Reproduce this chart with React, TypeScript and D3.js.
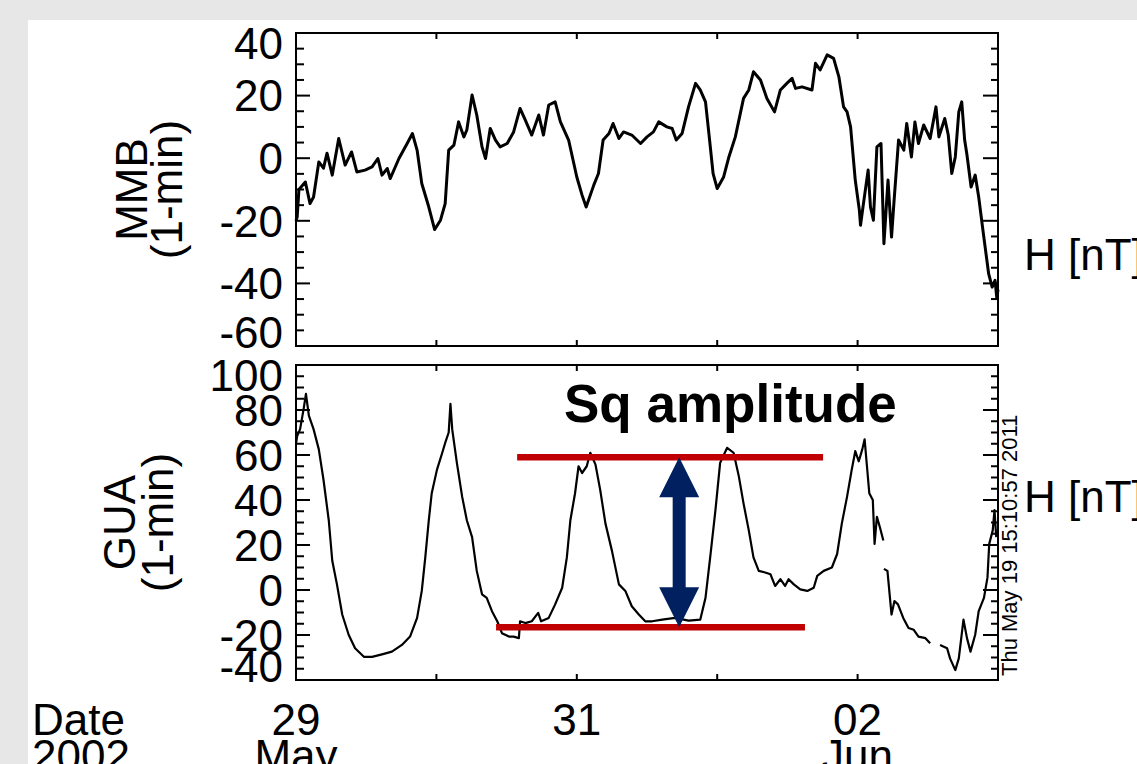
import React from "react";
import * as d3 from "d3";

// ---- Data (hours since 2002-05-29 00:00 UT, H in nT) ----
const mmbHours = [0,0.2,0.5,1.6,2.4,3.0,3.9,4.7,5.3,6.2,7.3,8.4,9.5,10.4,11.8,13.0,14.0,14.7,15.6,16.1,17.6,19.0,19.9,20.7,21.5,22.7,23.7,24.7,25.5,26.1,27.0,27.8,28.7,29.2,30.1,30.9,31.8,32.4,33.2,34.1,34.9,36.1,37.2,38.3,39.2,40.3,41.5,42.3,43.2,44.3,45.2,46.6,48.0,48.9,49.6,50.9,51.7,52.5,53.5,54.2,55.2,56.0,57.4,58.9,60.0,61.1,62.0,63.4,64.3,65.0,66.0,67.1,68.3,69.1,70.0,70.7,71.3,72.0,73.1,74.0,75.1,76.5,77.4,78.2,79.4,80.5,81.8,82.8,83.9,84.8,85.4,86.5,88.2,88.8,89.6,90.8,91.9,92.8,93.6,94.2,94.8,95.6,96.3,96.5,97.0,97.8,98.2,98.7,99.3,100.0,100.5,101.2,101.8,102.2,103.0,103.9,104.4,105.2,105.8,106.4,107.3,108.4,109.4,109.9,110.9,111.5,112.1,112.7,113.3,113.8,114.3,114.7,115.4,116.1,116.7,117.5,118.4,119.0,119.5,119.8,120.0];
const mmbValues = [-20,-18.8,-10,-7.6,-14.5,-12.4,-1.2,-3.2,1.6,-5.4,6.3,-2.2,2,-4.4,-3.8,-2.8,-0.1,-5.4,-3.3,-6.5,-0.1,4.7,7.9,2.6,-8.1,-15.6,-22.8,-19.8,-14.5,2.6,4.2,11.6,6.8,9,20.2,13.8,3.6,-0.1,9.5,5.8,3.6,4.7,8.4,15.9,12.2,7.4,13.8,7.4,17,18,11.6,5.8,-6,-11.8,-15.6,-8.6,-4.9,5.8,7.9,11.1,6.3,8.4,7.4,4.7,6.8,8.4,11.6,10,9.5,5.8,7.9,16.4,23.9,21.8,18,5.8,-4.9,-9.7,-6,0.4,6.8,19.1,21.8,27.6,25,19.1,14.8,21.8,23.9,25.5,22.3,22.8,21.8,30.3,28.2,33,31.9,26,16.4,14.8,10,-7,-16.6,-21.4,-14.5,-3.8,-15.6,-19.8,3.6,4.7,-27.3,-7,-25.2,-14.5,5.8,2.6,11.1,0.4,11.6,4.7,10.6,6.3,16.4,6.8,12.7,7.4,-4.9,0.4,14.8,18,5.8,1,-9.2,-5.4,-12.4,-24.1,-36.9,-41.2,-39,-44.8,-42];

const guaHours = [0,0.2,0.7,1.3,1.7,2.2,3.0,3.9,4.7,5.6,6.2,7.0,7.9,9.0,10.1,11.6,13.0,14.7,16.4,18.1,19.5,20.7,21.5,22.1,22.7,23.2,24.1,25.0,25.6,26.1,26.4,26.7,27.5,28.4,29.2,30.1,30.9,31.8,32.6,33.5,34.4,35.2,36.4,37.2,38.1,38.3,39.2,40.3,41.4,41.9,43.2,44.3,45.5,46.3,46.9,47.7,48.3,48.9,49.7,50.3,51.2,52.0,52.9,54.0,55.2,56.3,57.4,58.6,59.7,60.9,62.6,64.8,67.1,69.1,70.0,70.8,71.7,72.5,73.7,74.8,75.7,76.5,77.4,78.2,79.1,80.2,81.1,81.9,82.8,83.6,84.2,85.1,86.2,87.4,88.5,89.1,90.2,91.6,92.5,93.3,94.2,95.0,95.6,96.2,96.8,97.2,97.6,98.0,98.6,98.9,99.3,99.8,100.4,100.45,100.5,101.1,101.8,102.3,102.9,103.8,104.7,105.6,106.4,107.6,108.4,109.0,110.1,111.3,111.8,112.7,113.3,114.1,114.7,115.3,116.1,116.7,117.6,118.2,118.5,119.1,119.4,119.7];
const guaValues: (number | null)[] = [65,68.4,71.5,80.4,87.2,77.5,71.5,62.5,49,31,13,2.5,-10.9,-19.9,-25.9,-29.7,-29.7,-28.6,-27.4,-24.4,-20.7,-12.4,-0.4,14.5,31,43,53.5,61,66.2,70,82.7,71.5,56.5,41.5,31,23.5,8.5,-1.9,-3.5,-9.4,-13.9,-19.2,-20.7,-20.7,-21.4,-13.9,-14.7,-13.9,-10.2,-13.9,-12.4,-6.4,1,14.5,31,43,55,52,55,61,55.7,44.5,29.5,17.5,2.5,-0.4,-7.2,-10.9,-13.9,-13.9,-13.2,-12.4,-13.6,-13.2,-3.5,14.5,35.5,56.5,63.2,61,50.5,38.5,26.5,14.5,8.5,7.8,7,1.8,4.8,1.8,4.8,2.5,0.3,-0.4,1,6.3,8.5,10,16,29.5,41.5,53.5,61.7,57.2,62.5,67,55,43,40,20.5,32.5,28,22,null,9.4,8.5,-10.9,-4.9,-6.4,-12.4,-16.9,-17.7,-20.7,-21.4,-23.7,null,-24.4,-25.9,-30.4,-35.6,-30.4,-13.2,-21.4,-27.4,-19.9,-9.4,-3.5,5.5,20.5,26.5,35.5,23.5];

const mmbTicks = [-60, -40, -20, 0, 20, 40];
const guaTicks = [-40, -20, 0, 20, 40, 60, 80, 100];
const dayLabels = ["29", "31", "02"];
const monthLabels = ["May", "", "Jun"];

// Sq amplitude annotation (levels in nT, spans in hours)
const sqUpperLevel = 59;
const sqLowerLevel = -16.6;
const sqUpperSpan = [37.8, 90.1];
const sqLowerSpan = [34.2, 87.0];
const sqArrowHour = 65.5;

const T0 = Date.UTC(2002, 4, 29);
const toDate = (h: number) => new Date(T0 + h * 3600000);

const FONT = "'Liberation Sans', Arial, Helvetica, sans-serif";
const FS = 44;

const x = d3.scaleUtc().domain([toDate(0), toDate(120)]).range([296, 998]);
const yTop = d3.scaleLinear().domain([-60, 40]).range([346, 33]);
const yBot = d3.scaleLinear().domain([-40, 100]).range([680, 365]);

type Pt = { t: Date; v: number | null };

function Panel(props: {
  y: d3.ScaleLinear<number, number>;
  ticks: number[];
  hours: number[];
  values: (number | null)[];
  stroke: number;
  title: string;
  titleX: number;
  subX: number;
}) {
  const { y, ticks, hours, values, stroke, title, titleX, subX } = props;
  const [bottom, top] = y.range();
  const [lo, hi] = y.domain();
  const left = x.range()[0];
  const right = x.range()[1];
  const pts: Pt[] = hours.map((h, i) => ({ t: toDate(h), v: values[i] }));
  const line = d3
    .line<Pt>()
    .defined((d) => d.v != null)
    .x((d) => x(d.t))
    .y((d) => y(d.v as number));
  const minor = d3.range(lo, hi + 0.001, 5).filter((v) => !ticks.includes(v));
  const xTicks = x.ticks(d3.utcDay.every(1) as any);
  const cy = (top + bottom) / 2;
  return (
    <g>
      <path d={line(pts) || ""} fill="none" stroke="#000" strokeWidth={stroke} strokeLinejoin="round" />
      {ticks.map((v) => (
        <g key={"M" + v}>
          <line x1={left} x2={left + 14} y1={y(v)} y2={y(v)} stroke="#000" strokeWidth={2} />
          <line x1={right - 15} x2={right} y1={y(v)} y2={y(v)} stroke="#000" strokeWidth={2} />
        </g>
      ))}
      {minor.map((v) => (
        <g key={"m" + v}>
          <line x1={left} x2={left + 8} y1={y(v)} y2={y(v)} stroke="#000" strokeWidth={2} />
          <line x1={right - 7} x2={right} y1={y(v)} y2={y(v)} stroke="#000" strokeWidth={2} />
        </g>
      ))}
      {xTicks.map((d, i) => (
        <g key={"x" + i}>
          <line x1={x(d)} x2={x(d)} y1={top} y2={top + 6} stroke="#000" strokeWidth={2} />
          <line x1={x(d)} x2={x(d)} y1={bottom} y2={bottom - 6} stroke="#000" strokeWidth={2} />
        </g>
      ))}
      <rect x={left} y={top} width={right - left} height={bottom - top} fill="none" stroke="#000" strokeWidth={2} />
      {ticks.map((v) => {
        const c = Math.min(Math.max(y(v), top + 10.5), bottom - 14);
        return (
          <text key={"l" + v} x={283} y={c + 15.8} textAnchor="end" fontSize={FS} fontFamily={FONT}>
            {v}
          </text>
        );
      })}
      <text transform={`translate(${titleX},${cy}) rotate(-90)`} textAnchor="middle" fontSize={FS} fontFamily={FONT}>
        {title}
      </text>
      <text transform={`translate(${subX},${cy}) rotate(-90)`} textAnchor="middle" fontSize={FS} fontFamily={FONT}>
        (1-min)
      </text>
    </g>
  );
}

export default function App() {
  const dayTicks = d3.utcDay.range(toDate(0), toDate(120), 2);
  const ax = x(toDate(sqArrowHour));
  const yU = yBot(sqUpperLevel);
  const yL = yBot(sqLowerLevel);
  const head = 40;
  const hw = 20;
  const sw = 6.5;
  const arrow = [
    [ax, yU],
    [ax + hw, yU + head],
    [ax + sw, yU + head],
    [ax + sw, yL - head],
    [ax + hw, yL - head],
    [ax, yL],
    [ax - hw, yL - head],
    [ax - sw, yL - head],
    [ax - sw, yU + head],
    [ax - hw, yU + head],
  ]
    .map((p) => p.join(","))
    .join(" ");
  return (
    <svg
      width={1137}
      height={764}
      style={{ position: "absolute", left: 0, top: 0, display: "block" }}
      fontFamily={FONT}
    >
      <rect x={0} y={0} width={1137} height={764} fill="#e7e7e7" />
      <rect x={28} y={20} width={1109} height={744} fill="#ffffff" />

      <Panel y={yTop} ticks={mmbTicks} hours={mmbHours} values={mmbValues} stroke={3} title="MMB" titleX={147} subX={182} />
      <Panel y={yBot} ticks={guaTicks} hours={guaHours} values={guaValues} stroke={2.2} title="GUA" titleX={135} subX={173} />

      <text x={1024} y={270} fontSize={FS} fontFamily={FONT}>H [nT]</text>
      <text x={1024} y={512} fontSize={FS} fontFamily={FONT}>H [nT]</text>

      <text transform="translate(1017,676) rotate(-90)" fontSize={22} fontFamily={FONT}>
        Thu May 19 15:10:57 2011
      </text>

      {/* Sq amplitude annotation */}
      <line x1={x(toDate(sqUpperSpan[0]))} x2={x(toDate(sqUpperSpan[1]))} y1={yU} y2={yU} stroke="#c00000" strokeWidth={6.5} />
      <line x1={x(toDate(sqLowerSpan[0]))} x2={x(toDate(sqLowerSpan[1]))} y1={yL} y2={yL} stroke="#c00000" strokeWidth={6.5} />
      <polygon points={arrow} fill="#002060" />
      <text x={564} y={422} fontSize={53} fontWeight="bold" fontFamily={FONT}>
        Sq amplitude
      </text>

      {/* Date axis labels */}
      <text x={32} y={735} fontSize={FS} fontFamily={FONT}>Date</text>
      <text x={32} y={771} fontSize={FS} fontFamily={FONT}>2002</text>
      {dayTicks.map((d, i) => (
        <g key={"d" + i}>
          <text x={x(d)} y={735} textAnchor="middle" fontSize={FS} fontFamily={FONT}>
            {dayLabels[i]}
          </text>
          <text x={x(d)} y={771} textAnchor="middle" fontSize={FS} fontFamily={FONT}>
            {monthLabels[i]}
          </text>
        </g>
      ))}
    </svg>
  );
}
